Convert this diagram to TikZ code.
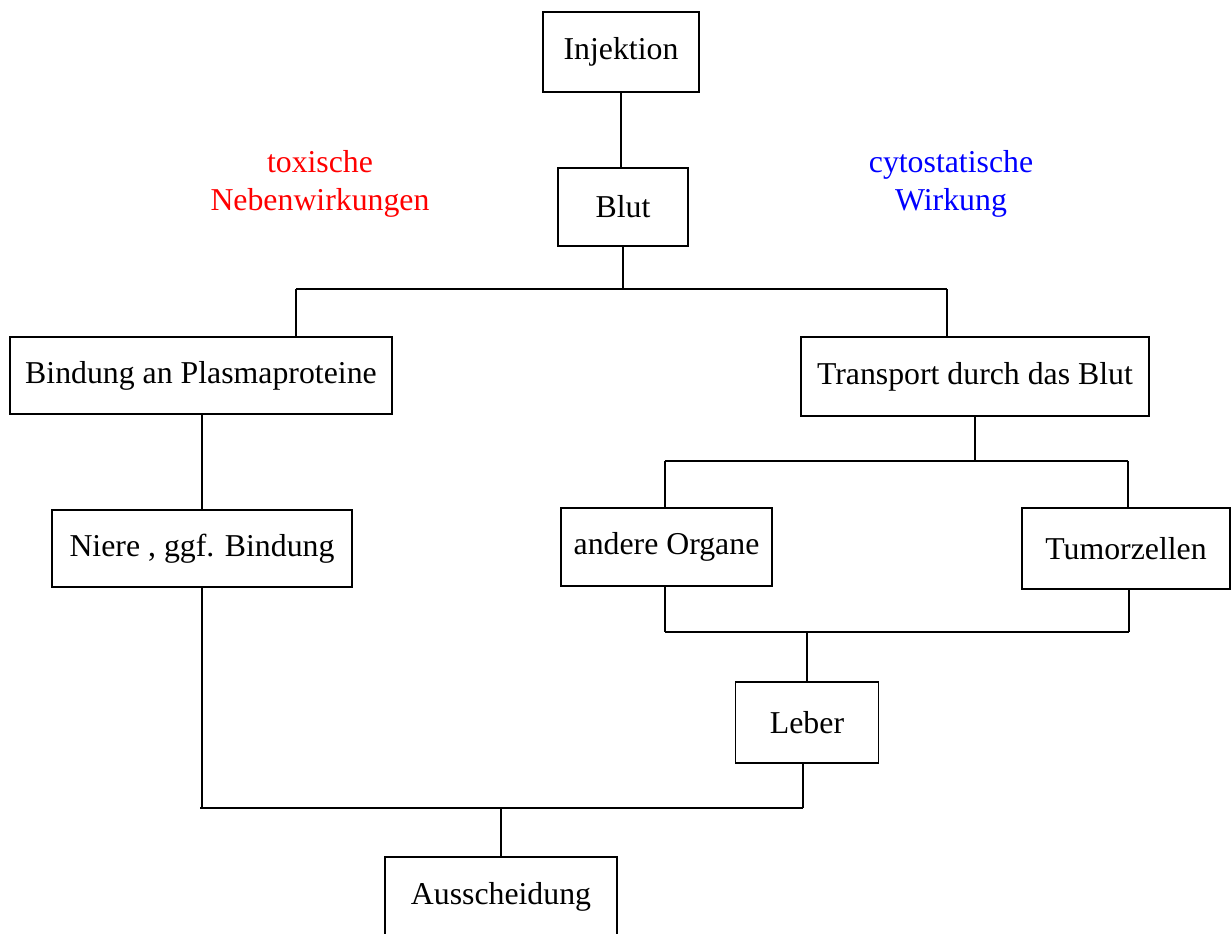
\documentclass[tikz,border=0pt]{standalone}
\usepackage{fontspec}
\setmainfont{Liberation Serif}

\begin{document}
\begin{tikzpicture}[x=.5pt, y=-.5pt,
  box/.style={draw, line width=.7pt, inner sep=0pt, font=\fontsize{15.9}{19}\selectfont},
  link/.style={line width=1pt}, bus/.style={line width=1.3pt},
  note/.style={align=center, font=\fontsize{15.9}{19}\selectfont}]
\useasboundingbox (0,0) rectangle (1232,933);
\node[box, minimum width=78pt, minimum height=40pt] (inj) at (621,52) {Injektion};
\node[box, minimum width=65pt, minimum height=39pt] (blut) at (623,207) {Blut};
\node[box, minimum width=191pt, minimum height=38.5pt] (bind) at (201,375.5) {Bindung an Plasmaproteine};
\node[box, minimum width=174pt, minimum height=39.5pt] (trans) at (975,376.5) {Transport durch das Blut};
\node[box, minimum width=150pt, minimum height=38.5pt] (niere) at (202,548.5) {Niere , ggf. Bindung};
\node[box, minimum width=105.5pt, minimum height=39pt] (organe) at (666.5,547) {andere Organe};
\node[box, minimum width=104pt, minimum height=40.5pt] (tumor) at (1126,548.5) {Tumorzellen};
\node[box, minimum width=71.5pt, minimum height=40.5pt] (leber) at (807,722.5) {Leber};
\node[box, minimum width=116pt, minimum height=40pt] (aus) at (501,897) {Ausscheidung};
\node[note, text={rgb,255:red,255;green,0;blue,0}] (tox) at (320,184) {toxische\\Nebenwirkungen};
\node[note, text={rgb,255:red,0;green,0;blue,255}] (cyto) at (951,184) {cytostatische\\Wirkung};
\coordinate (bA) at (296,289); \coordinate (bB) at (947,289);
\coordinate (cA) at (665,461); \coordinate (cB) at (1128,461);
\coordinate (dA) at (665,632); \coordinate (dB) at (1129,632);
\coordinate (eA) at (202,808); \coordinate (eB) at (803,808);
\draw[link] (inj.south) -- (inj.south |- blut.north);
\draw[link, line width=.8pt] (blut.south) -- (blut.south |- bA);
\draw[bus] (bA) -- (bB);
\draw[link] (bA) -- (bA |- bind.north);
\draw[link] (bB) -- (bB |- trans.north);
\draw[link] (niere.north) -- (niere.north |- bind.south);
\draw[link] (trans.south) -- (trans.south |- cA);
\draw[bus] (cA) -- (cB);
\draw[link] (cA) -- (cA |- organe.north);
\draw[link] (cB) -- (cB |- tumor.north);
\draw[link] (dA |- organe.south) -- (dA);
\draw[link] (dB |- tumor.south) -- (dB);
\draw[bus] (dA) -- (dB);
\draw[link] (leber.north) -- (leber.north |- dA);
\draw[link] (niere.south) -- (eA);
\draw[link] (eB |- leber.south) -- (eB);
\draw[bus] ([xshift=-1pt]eA) -- (eB);
\draw[link] (aus.north) -- (aus.north |- eA);
\end{tikzpicture}
\end{document}
